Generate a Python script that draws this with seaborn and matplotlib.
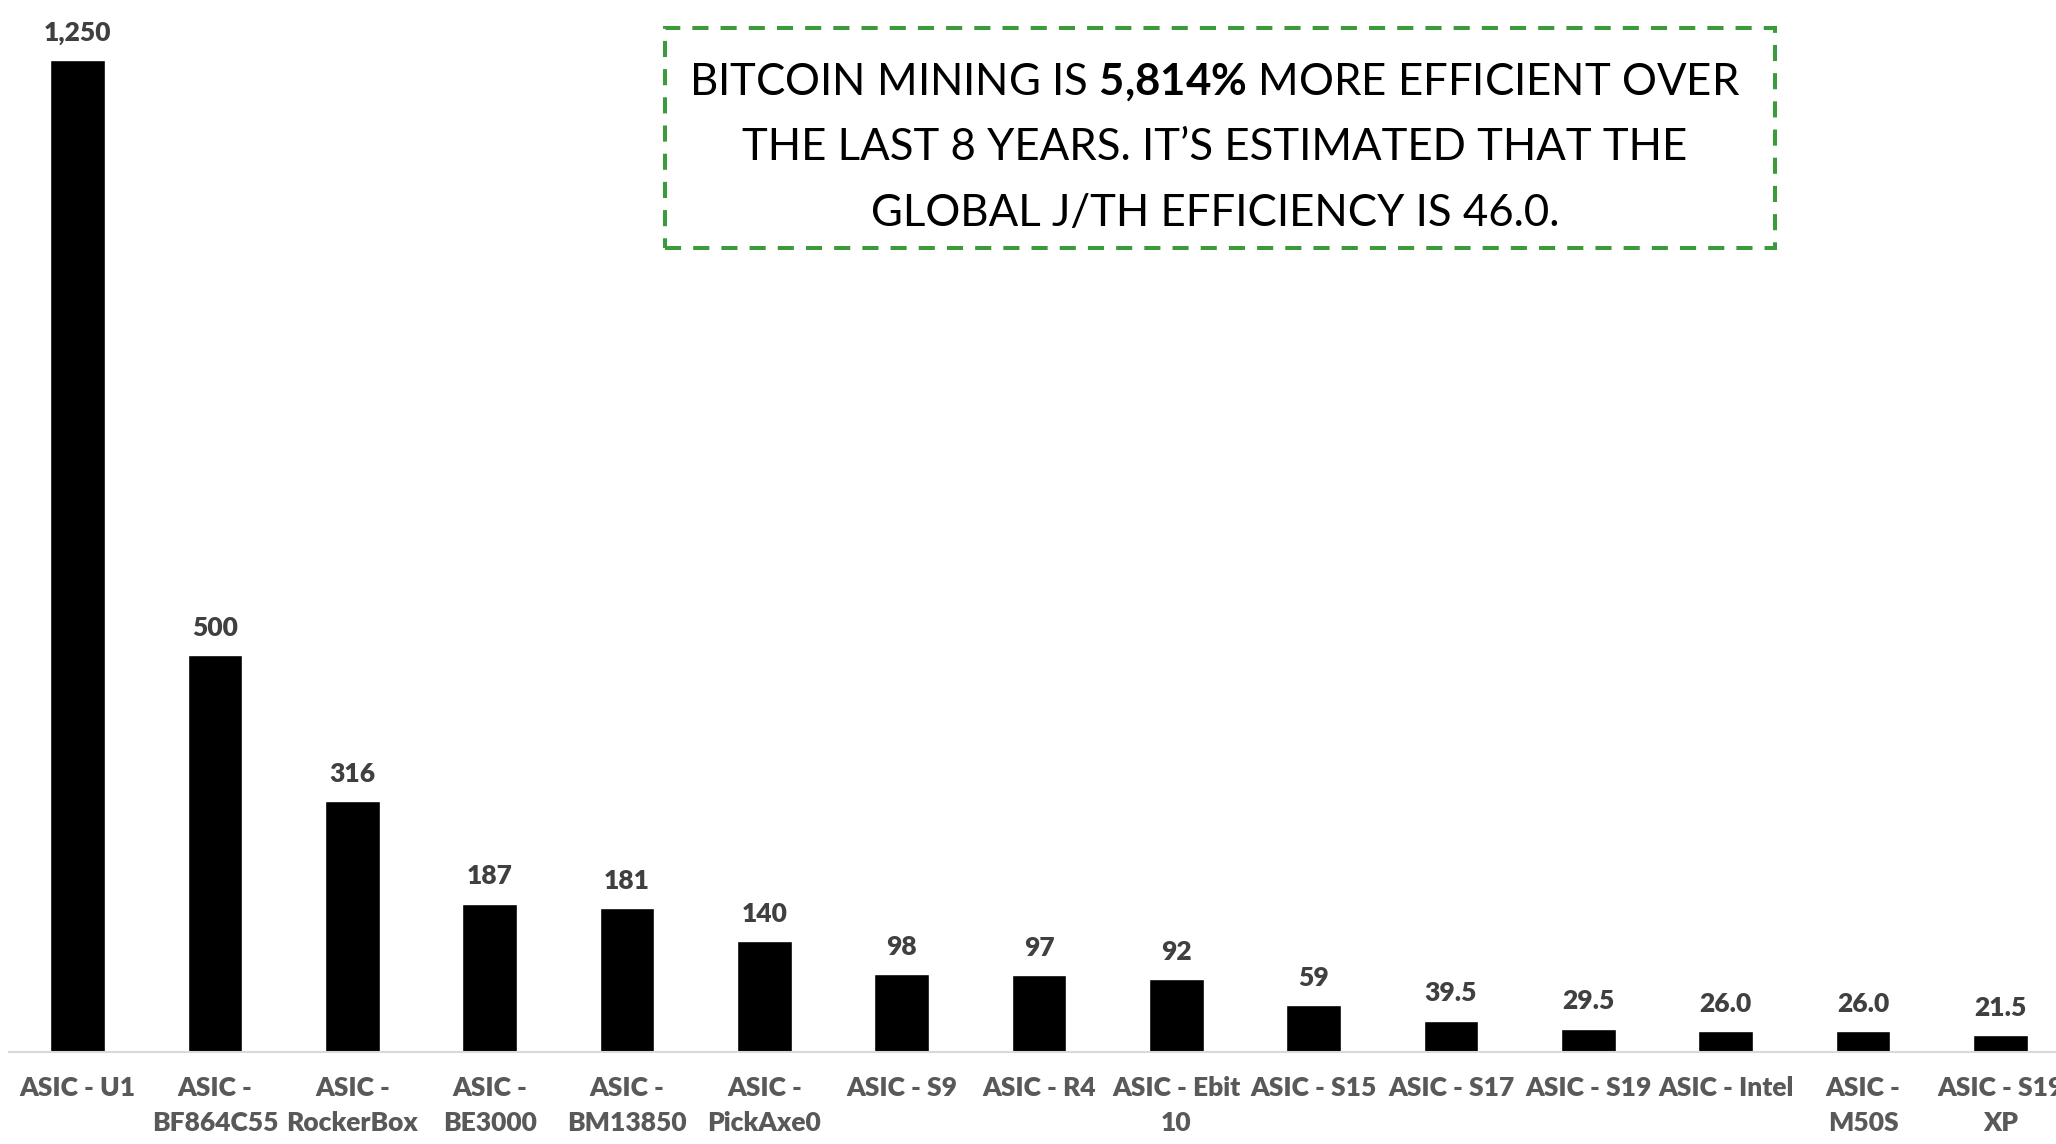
import numpy as np
import pandas as pd

import matplotlib as mpl
import matplotlib.pyplot as plt
from matplotlib.patches import Rectangle

import seaborn as sns


models = ['ASIC - U1', 'ASIC -\nBF864C55', 'ASIC -\nRockerBox', 'ASIC -\nBE3000',
          'ASIC -\nBM13850', 'ASIC -\nPickAxe0', 'ASIC - S9', 'ASIC - R4',
          'ASIC - Ebit\n10', 'ASIC - S15', 'ASIC - S17', 'ASIC - S19',
          'ASIC - Intel', 'ASIC -\nM50S', 'ASIC - S19\nXP']
efficiency = [1250, 500, 316, 187, 181, 140, 98, 97, 92, 59, 39.5, 29.5, 26.0, 26.0, 21.5]
value_labels = ['1,250', '500', '316', '187', '181', '140', '98', '97', '92', '59',
                '39.5', '29.5', '26.0', '26.0', '21.5']

box_lines = [r'BITCOIN MINING IS $\mathbf{5{,}814\%}$ MORE EFFICIENT OVER',
             'THE LAST 8 YEARS. IT\u2019S ESTIMATED THAT THE',
             'GLOBAL J/TH EFFICIENCY IS 46.0.']

sns.set_style('white')
fam = ['Lato', 'DejaVu Sans']
plt.rcParams['font.family'] = fam
plt.rcParams['mathtext.fontset'] = 'custom'
plt.rcParams['mathtext.rm'] = 'Lato'
plt.rcParams['mathtext.bf'] = 'Lato:bold'

df = pd.DataFrame({'model': models, 'jth': efficiency})

fig = plt.figure(figsize=(20.56, 11.44), dpi=100)
# axes runs a bit past the right edge, like the cropped original
ax = fig.add_axes([9 / 2056, 92 / 1144, 2060 / 2056, 1052 / 1144])

sns.barplot(df, x='model', y='jth', color='black', saturation=1, width=0.4, ax=ax)
ax.set_ylim(0, 1325.6)
ax.set_xlim(-0.5, len(models) - 0.5)

for i, (v, lab) in enumerate(zip(efficiency, value_labels)):
    ax.annotate(lab, (i, v), xytext=(0, 11), textcoords='offset points',
                ha='center', va='bottom', fontsize=19, fontweight='heavy',
                color='#404040', family=fam)

ax.set_xlabel('')
ax.set_ylabel('')
ax.set_yticks([])
ax.tick_params(axis='x', length=0, pad=17, labelsize=19, labelcolor='#595959')
for t in ax.get_xticklabels():
    t.set_fontweight('heavy')
    t.set_linespacing(1.55)
for s in ['left', 'right', 'top']:
    ax.spines[s].set_visible(False)
ax.spines['bottom'].set_color('#d9d9d9')
ax.spines['bottom'].set_linewidth(1.5)

box = Rectangle((665 / 2056, 1 - 248 / 1144), 1110 / 2056, 220.5 / 1144,
                transform=fig.transFigure, fill=False, edgecolor='#3c9a3c',
                linewidth=2.9, linestyle=(0, (4, 3)))
fig.patches.append(box)

for k, line in enumerate(box_lines):
    y = 1 - (82 + 65.5 * k) / 1144
    fig.text(1215 / 2056, y, line, ha='center', va='center', fontsize=31.5,
             color='black', family=fam)

fig.savefig('out.png', dpi=100)
